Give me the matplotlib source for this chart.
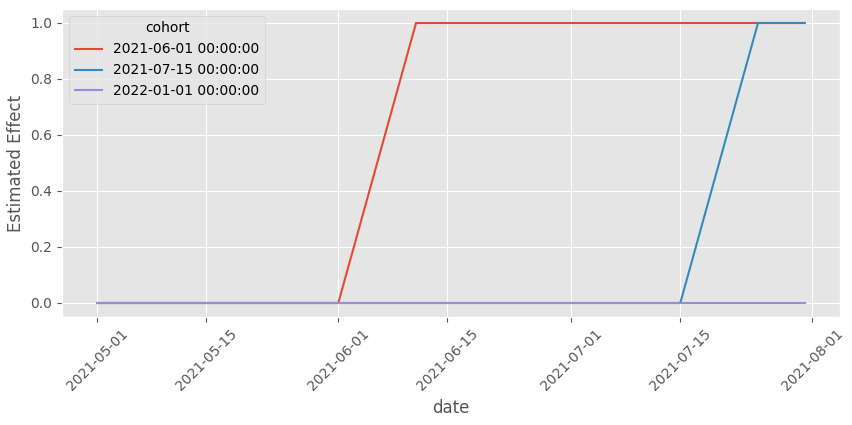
import matplotlib
matplotlib.use("Agg")
import matplotlib.pyplot as plt
import matplotlib.dates as mdates
import pandas as pd

plt.style.use("ggplot")

# cohort -> (dates, estimated effect)
cohorts = ["2021-06-01 00:00:00", "2021-07-15 00:00:00", "2022-01-01 00:00:00"]
dates_a = pd.to_datetime(["2021-05-01", "2021-06-01", "2021-06-11", "2021-07-31"])
effect_a = [0.0, 0.0, 1.0, 1.0]
dates_b = pd.to_datetime(["2021-05-01", "2021-07-15", "2021-07-25", "2021-07-31"])
effect_b = [0.0, 0.0, 1.0, 1.0]
dates_c = pd.to_datetime(["2021-05-01", "2021-07-31"])
effect_c = [0.0, 0.0]

fig, ax = plt.subplots(figsize=(8.53, 4.25), dpi=100)
fig.subplots_adjust(left=62/853, right=840/853, top=1-9/425, bottom=1-317/425)

ax.plot(dates_a, effect_a, label=cohorts[0])
ax.plot(dates_b, effect_b, label=cohorts[1])
ax.plot(dates_c, effect_c, label=cohorts[2])

ax.xaxis.set_major_locator(mdates.DayLocator(bymonthday=[1, 15]))
ax.xaxis.set_major_formatter(mdates.DateFormatter("%Y-%m-%d"))
plt.setp(ax.get_xticklabels(), rotation=45)

ax.set_xlabel("date")
ax.set_ylabel("Estimated Effect")
ax.legend(title="cohort", loc="upper left")

fig.savefig("out.png")
